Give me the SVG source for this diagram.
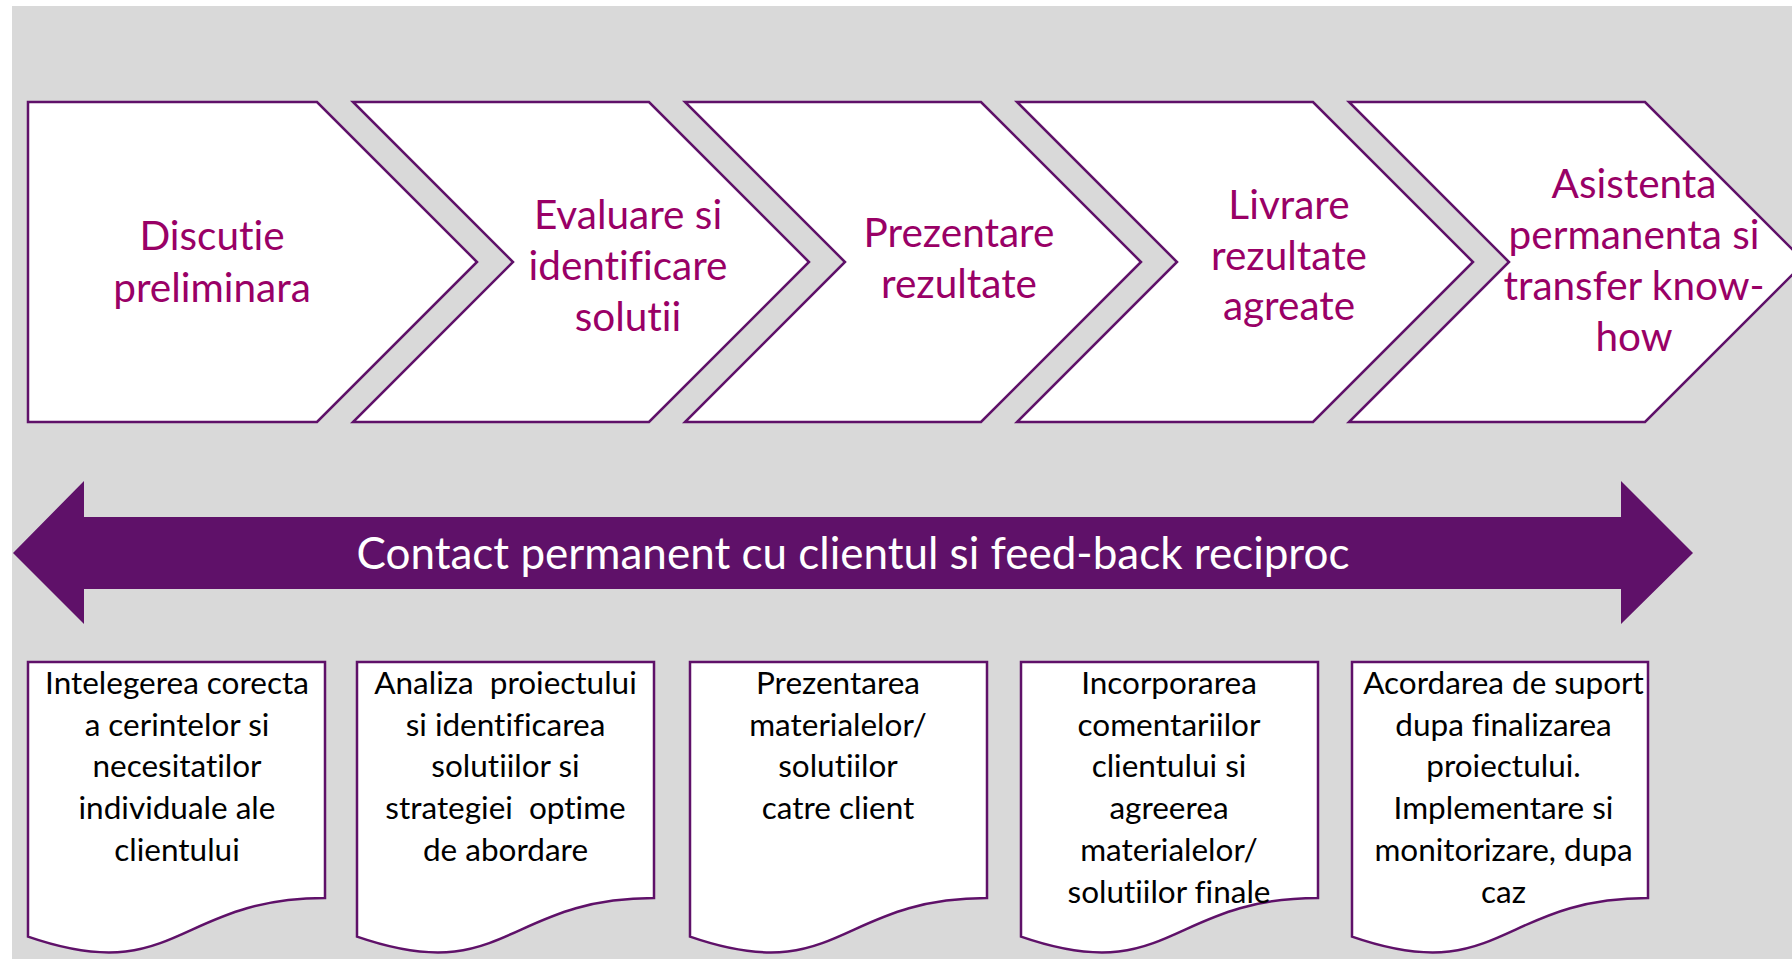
<svg xmlns="http://www.w3.org/2000/svg" width="1792" height="959" viewBox="0 0 1792 959">
<defs>
<style>
.chev{fill:#ffffff;stroke:#5F1169;stroke-width:2.5;stroke-linejoin:miter}
.doc{fill:#ffffff;stroke:#5F1169;stroke-width:2.5}
text{font-variant-ligatures:none;font-feature-settings:"liga" 0,"clig" 0}
.ct{font-family:Lato,"Open Sans",sans-serif;font-size:40.5px;fill:#990066;text-anchor:middle}
.dt{font-family:Lato,"Open Sans",sans-serif;font-size:31.5px;fill:#000000;text-anchor:middle}
.at{font-family:Lato,"Open Sans",sans-serif;font-size:44px;fill:#ffffff;text-anchor:middle}
</style>
</defs>
<rect x="0" y="0" width="1792" height="959" fill="#ffffff"/>
<rect x="12" y="6" width="1780" height="953" fill="#D9D9D9"/>

<g id="step1">
<path class="chev" d="M28,102 H317 L477,262 L317,422 H28 Z"/>
<text class="ct"><tspan x="212" y="250">Discutie</tspan><tspan x="212" y="302">preliminara</tspan></text>
</g>
<g id="step2">
<path class="chev" d="M353,102 H649 L809,262 L649,422 H353 L513,262 Z"/>
<text class="ct"><tspan x="628" y="229">Evaluare si</tspan><tspan x="628" y="280">identificare</tspan><tspan x="628" y="331">solutii</tspan></text>
</g>
<g id="step3">
<path class="chev" d="M685,102 H981 L1141,262 L981,422 H685 L845,262 Z"/>
<text class="ct"><tspan x="959" y="247">Prezentare</tspan><tspan x="959" y="298">rezultate</tspan></text>
</g>
<g id="step4">
<path class="chev" d="M1017,102 H1313 L1473,262 L1313,422 H1017 L1177,262 Z"/>
<text class="ct"><tspan x="1289" y="219">Livrare</tspan><tspan x="1289" y="270">rezultate</tspan><tspan x="1289" y="320">agreate</tspan></text>
</g>
<g id="step5">
<path class="chev" d="M1349,102 H1645 L1805,262 L1645,422 H1349 L1509,262 Z"/>
<text class="ct"><tspan x="1634" y="198">Asistenta</tspan><tspan x="1634" y="249">permanenta si</tspan><tspan x="1634" y="300">transfer know-</tspan><tspan x="1634" y="351">how</tspan></text>
</g>

<g id="connectors">
<g id="contact-arrow">
<path d="M13,553 L84,481 V517 H1621 V481 L1693,553 L1621,624 V589 H84 V624 Z" fill="#5F1169"/>
<text class="at" x="853" y="569">Contact permanent cu clientul si feed-back reciproc</text>
</g>
</g>

<g id="doc1">
<path class="doc" d="M28,662 H325 V898 C176.5,898 176.5,988 28,936.6 Z"/>
<text class="dt"><tspan x="177" y="694">Intelegerea corecta</tspan><tspan x="177" y="735.7">a cerintelor si</tspan><tspan x="177" y="777.4">necesitatilor</tspan><tspan x="177" y="819.1">individuale ale</tspan><tspan x="177" y="860.8">clientului</tspan></text>
</g>
<g id="doc2">
<path class="doc" d="M357,662 H654 V898 C505.5,898 505.5,988 357,936.6 Z"/>
<text class="dt" xml:space="preserve"><tspan x="505.5" y="694">Analiza  proiectului</tspan><tspan x="505.5" y="735.7">si identificarea</tspan><tspan x="505.5" y="777.4">solutiilor si</tspan><tspan x="505.5" y="819.1">strategiei  optime</tspan><tspan x="505.5" y="860.8">de abordare</tspan></text>
</g>
<g id="doc3">
<path class="doc" d="M690,662 H987 V898 C838.5,898 838.5,988 690,936.6 Z"/>
<text class="dt"><tspan x="838" y="694">Prezentarea</tspan><tspan x="838" y="735.7">materialelor/</tspan><tspan x="838" y="777.4">solutiilor</tspan><tspan x="838" y="819.1">catre client</tspan></text>
</g>
<g id="doc4">
<path class="doc" d="M1021,662 H1318 V898 C1169.5,898 1169.5,988 1021,936.6 Z"/>
<text class="dt"><tspan x="1169" y="694">Incorporarea</tspan><tspan x="1169" y="735.7">comentariilor</tspan><tspan x="1169" y="777.4">clientului si</tspan><tspan x="1169" y="819.1">agreerea</tspan><tspan x="1169" y="860.8">materialelor/</tspan><tspan x="1169" y="902.5">solutiilor finale</tspan></text>
</g>
<g id="doc5">
<path class="doc" d="M1352,662 H1648 V898 C1500,898 1500,988 1352,936.6 Z"/>
<text class="dt"><tspan x="1503.5" y="694">Acordarea de suport</tspan><tspan x="1503.5" y="735.7">dupa finalizarea</tspan><tspan x="1503.5" y="777.4">proiectului.</tspan><tspan x="1503.5" y="819.1">Implementare si</tspan><tspan x="1503.5" y="860.8">monitorizare, dupa</tspan><tspan x="1503.5" y="902.5">caz</tspan></text>
</g>
</svg>
